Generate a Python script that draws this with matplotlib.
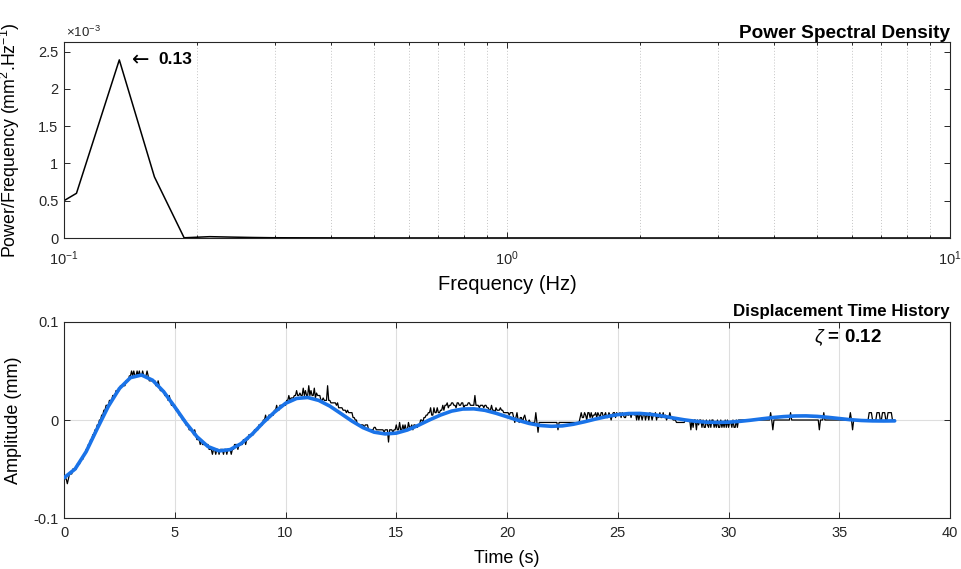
import numpy as np
import matplotlib
matplotlib.use("Agg")
import matplotlib.pyplot as plt
from matplotlib.ticker import FixedLocator, FuncFormatter, LogLocator, NullFormatter

plt.rcParams["font.family"] = ["Liberation Sans", "DejaVu Sans"]
plt.rcParams["mathtext.fontset"] = "custom"
plt.rcParams["mathtext.rm"] = "Liberation Sans"
plt.rcParams["mathtext.it"] = "Liberation Sans:italic"
plt.rcParams["mathtext.bf"] = "Liberation Sans:bold"
plt.rcParams["axes.unicode_minus"] = False

# ---------------- power spectral density ----------------
psd_freq = [0.08, 0.1067, 0.1333, 0.16, 0.1867, 0.2133, 0.24, 0.2667, 0.2933,
            0.32, 0.40, 0.55, 0.80, 1.2, 2.0, 3.5, 6.0, 10.0]
psd_val = [0.16e-3, 0.60e-3, 2.39e-3, 0.82e-3, 0.003e-3, 0.018e-3, 0.012e-3,
           0.007e-3, 0.004e-3, 0.003e-3, 0.002e-3, 0.001e-3, 0.001e-3,
           0.001e-3, 0.0005e-3, 0.0005e-3, 0.0005e-3, 0.0005e-3]
psd_yticks = [0, 0.5e-3, 1.0e-3, 1.5e-3, 2.0e-3, 2.5e-3]

# ---------------- displacement record ----------------
# measured displacement, run-length coded: level (in counts) and run length
# (in samples of sample_dt seconds)
count_mm = 0.0025
sample_dt = 0.05
disp_levels = [
    -24, -26, -24, -22, -20, -18, -16, -14, -12, -10, -8, -6, -4, -2, 0, 2, 4, 6, 8, 10, 12, 14, 16,
    18, 20, 18, 20, 18, 20, 18, 20, 18, 20, 18, 20, 18,
    16, 14, 16, 14, 12, 10, 8, 10, 8, 6, 4, 2, 0,
    -2, -4, -6, -4, -6,
    -8, -10, -8, -10, -12, -14, -12, -14, -12, -14, -12, -14, -12, -14, -12, -14, -12, -10, -12, -10,
    -8, -10, -8, -6, -4, -2, 0, 2, 0, 2, 4, 6, 4, 6,
    8, 10, 8, 9, 10, 12, 10, 11, 10,
    13, 10, 12, 10, 14, 10, 12, 10, 13, 9, 11, 10,
    8, 9, 8, 14, 8, 7,
    6, 7, 5, 4, 3, 4, 3, 1, 0,
    -2, -3, -2, -4, -3, -4, -5, -4, -9, -4, -5, -4,
    -2, -4, -1, -4, -2, -4, -2, -4, -1, -3, -2, -4, -2, -3,
    -2, 0, -1, 1, 2,
    3, 5, 2, 5, 3, 5, 3, 4, 6, 4,
    6, 7, 5, 6, 7, 6, 5, 7, 6, 7, 5, 6, 7,
    6, 10, 6, 5, 6, 5, 6, 5,
    4, 6, 4, 3, 5, 4, 5, 4, 3, 2, 3,
    1, -1, 1, 3, 0, -1, 1, -1, 1, 2, 0, -1, 0, -1,
    3, -1, -5, -1, -4, -1,
    1, 3, 1, 3, 2, 0, 3, 1, 3, 1, 2, 3, 1, 3, 2, 1, 3, 1, 2, 3,
    1, 3, 2, 0, 2, 3, 1, 3, 2, 3, 1, 3, 2, 1, 3, 2, 3, 1, 3, 2,
    3, 0, 3, 0, 2, 0, 2, 3, 0, 2, 0, 3, 2, 0, 2, 3, 0, 2, 1, 3, 1, 3, 1, 2, 0, 1, 3, 1,
    0, -1, 0,
    -4, 0, -3, 0, -4, 0, -2, 0, -3, 0, -3, 0, -2, -3, 0, -3, 0, -3, -1, -3, 0, -3, 0,
    -3, -1, -3, 0, -3, 0, -3, -1, -3, 0, -3, 0, -3,
    0, 3, 0, -4, 0, 3, 0, -4, 0, 3, 0, 3, 0, -4, 0, 3, 0, 3, 0, 3, 0, 3, 0,
]
disp_runs = [
    3, 1, 1, 3, 4, 3, 3, 2, 2, 2, 2, 2, 2, 2, 2, 2, 2, 3, 3, 3, 4, 5, 3,
    2, 1, 1, 1, 2, 1, 1, 1, 2, 1, 3, 1, 1,
    6, 2, 1, 1, 4, 3, 1, 1, 1, 4, 3, 3, 3,
    3, 4, 1, 1, 1,
    3, 1, 1, 6, 3, 1, 2, 1, 2, 1, 3, 1, 2, 1, 3, 1, 2, 3, 1, 4,
    2, 1, 2, 5, 4, 4, 2, 1, 2, 5, 2, 1, 2, 6,
    2, 1, 1, 3, 2, 1, 2, 1, 2,
    1, 1, 1, 2, 1, 1, 1, 2, 1, 1, 1, 3,
    2, 1, 3, 1, 2, 5,
    1, 1, 4, 3, 1, 1, 4, 2, 2,
    6, 1, 3, 5, 2, 7, 1, 3, 1, 3, 1, 2,
    1, 2, 1, 2, 1, 1, 1, 2, 1, 2, 1, 1, 2, 2,
    2, 2, 1, 2, 2,
    2, 1, 2, 1, 2, 1, 2, 2, 1, 1,
    2, 1, 1, 2, 2, 2, 1, 2, 2, 2, 1, 3, 2,
    4, 1, 3, 1, 3, 1, 2, 2,
    2, 1, 2, 1, 1, 3, 1, 2, 5, 1, 3,
    1, 1, 1, 1, 1, 1, 2, 1, 1, 1, 1, 2, 1, 5,
    1, 1, 1, 17, 1, 19,
    1, 1, 2, 1, 1, 1, 2, 1, 1, 1, 2, 1, 1, 1, 1, 1, 2, 1, 1, 1,
    2, 1, 1, 1, 1, 2, 1, 1, 2, 1, 1, 1, 1, 2, 1, 2, 1, 1, 2, 1,
    1, 1, 1, 1, 2, 1, 1, 1, 1, 2, 1, 1, 1, 1, 2, 1, 1, 1, 1, 1, 2, 1, 1, 1, 1, 2, 1, 2,
    3, 8, 5,
    1, 1, 1, 2, 1, 1, 1, 2, 1, 1, 2, 1, 1, 1, 1, 1, 2, 1, 1, 1, 1, 2, 1,
    1, 1, 1, 1, 1, 1, 1, 2, 1, 1, 2, 1, 1,
    29, 1, 1, 1, 15, 1, 25, 1, 3, 1, 23, 1, 1, 1, 14, 3, 4, 3, 2, 3, 2, 4, 3,
]

# fitted damped response, sampled every 0.5 s from 0 to 37.5 s
fit_time = np.arange(0, 37.51, 0.5)
fit_disp = [
    -0.0590, -0.0500, -0.0323, -0.0088, 0.0139, 0.0321, 0.0432, 0.0459, 0.0406, 0.0289,
    0.0134, -0.0028, -0.0170, -0.0271, -0.0315, -0.0302, -0.0240, -0.0143, -0.0025, 0.0080,
    0.0170, 0.0220, 0.0230, 0.0200, 0.0142, 0.0066, -0.0011, -0.0078, -0.0124, -0.0142,
    -0.0134, -0.0102, -0.0054, 0.0001, 0.0051, 0.0091, 0.0112, 0.0114, 0.0099, 0.0069,
    0.0033, -0.0003, -0.0035, -0.0056, -0.0064, -0.0060, -0.0043, -0.0018, 0.0010, 0.0035,
    0.0055, 0.0066, 0.0067, 0.0058, 0.0041, 0.0021, 0.0002, -0.0013, -0.0022, -0.0025,
    -0.0022, -0.0014, -0.0002, 0.0012, 0.0025, 0.0035, 0.0041, 0.0042, 0.0037, 0.0027,
    0.0015, 0.0003, -0.0005, -0.0009, -0.0010, -0.0009,
]
damping_ratio = 0.12

disp = np.repeat(np.array(disp_levels) * count_mm, disp_runs)
disp_time = np.arange(disp.size) * sample_dt

# ---------------- figure ----------------
ink = "#262626"
fig = plt.figure(figsize=(9.61, 5.69), dpi=100)
ax1 = fig.add_axes([0.0666, 0.5817, 0.922, 0.3445])
ax2 = fig.add_axes([0.0666, 0.0896, 0.922, 0.3445])

for ax in (ax1, ax2):
    for s in ax.spines.values():
        s.set_color(ink)
        s.set_linewidth(0.8)
    ax.tick_params(which="both", direction="in", top=True, right=True,
                   colors=ink, labelsize=10.5, width=0.7)
    ax.tick_params(which="major", length=4.5)
    ax.tick_params(which="minor", length=2.5)
    ax.tick_params(axis="y", pad=4)

# top panel
ax1.plot(psd_freq, psd_val, color="black", lw=1.1)
ax1.set_xscale("log")
ax1.set_xlim(0.1, 10)
ax1.set_ylim(0, 2.63e-3)
ax1.xaxis.set_major_locator(LogLocator(base=10, numticks=5))
ax1.xaxis.set_minor_locator(LogLocator(base=10, subs=np.arange(2, 10), numticks=20))
ax1.xaxis.set_minor_formatter(NullFormatter())
ax1.tick_params(axis="x", which="major", pad=8)
ax1.yaxis.set_major_locator(FixedLocator(psd_yticks))
ax1.yaxis.set_major_formatter(FuncFormatter(lambda v, _: f"{v * 1e3:g}"))
ax1.grid(True, which="both", axis="x", linestyle=(0, (1, 2)), color="#c4c4c4", lw=0.7)
ax1.set_axisbelow(True)
ax1.text(0.002, 1.012, r"$\times$10$^{-3}$", transform=ax1.transAxes, fontsize=9.5,
         color=ink, ha="left", va="bottom")
ax1.set_title("Power Spectral Density", loc="right", fontweight="bold",
              fontsize=13.7, pad=3)
ax1.set_xlabel("Frequency (Hz)", fontsize=14.5, labelpad=5)
ax1.set_ylabel(r"Power/Frequency (mm$^{2}$.Hz$^{-1}$)", fontsize=12.8)
ax1.yaxis.set_label_coords(-0.047, 0.5)

# peak marker: arrow and frequency value
ipk = int(np.argmax(psd_val))
x_lab = psd_freq[ipk] * 1.07
ax1.annotate("\u2190", xy=(x_lab, psd_val[ipk]), xytext=(0, 0),
             textcoords="offset points", family=["DejaVu Sans"], fontsize=15,
             ha="left", va="center")
ax1.annotate(f"{psd_freq[ipk]:.2f}", xy=(x_lab, psd_val[ipk]), xytext=(19, 0),
             textcoords="offset points", fontsize=12.5, fontweight="bold",
             ha="left", va="center")

# bottom panel
ax2.plot(disp_time, disp, color="black", lw=0.9, zorder=3)
ax2.plot(fit_time, fit_disp, color="#1a73e8", lw=2.6, zorder=4,
         solid_capstyle="round", solid_joinstyle="round")
ax2.set_xlim(0, 40)
ax2.set_ylim(-0.1, 0.1)
ax2.set_xticks(np.arange(0, 41, 5))
ax2.set_yticks([-0.1, 0, 0.1])
ax2.set_yticklabels(["-0.1", "0", "0.1"])
ax2.tick_params(axis="x", which="major", pad=6)
ax2.grid(True, which="major", color="#dedede", lw=0.8)
ax2.set_axisbelow(True)
ax2.set_title("Displacement Time History", loc="right", fontweight="bold",
              fontsize=12.2, pad=4)
ax2.set_xlabel("Time (s)", fontsize=13, labelpad=7)
ax2.set_ylabel("Amplitude (mm)", fontsize=13)
ax2.yaxis.set_label_coords(-0.047, 0.5)
ax2.text(36.9, 0.084, r"$\zeta$ = " + f"{damping_ratio:.2f}", fontsize=13.5,
         fontweight="bold", ha="right", va="center")

fig.savefig("out.png", dpi=100)
